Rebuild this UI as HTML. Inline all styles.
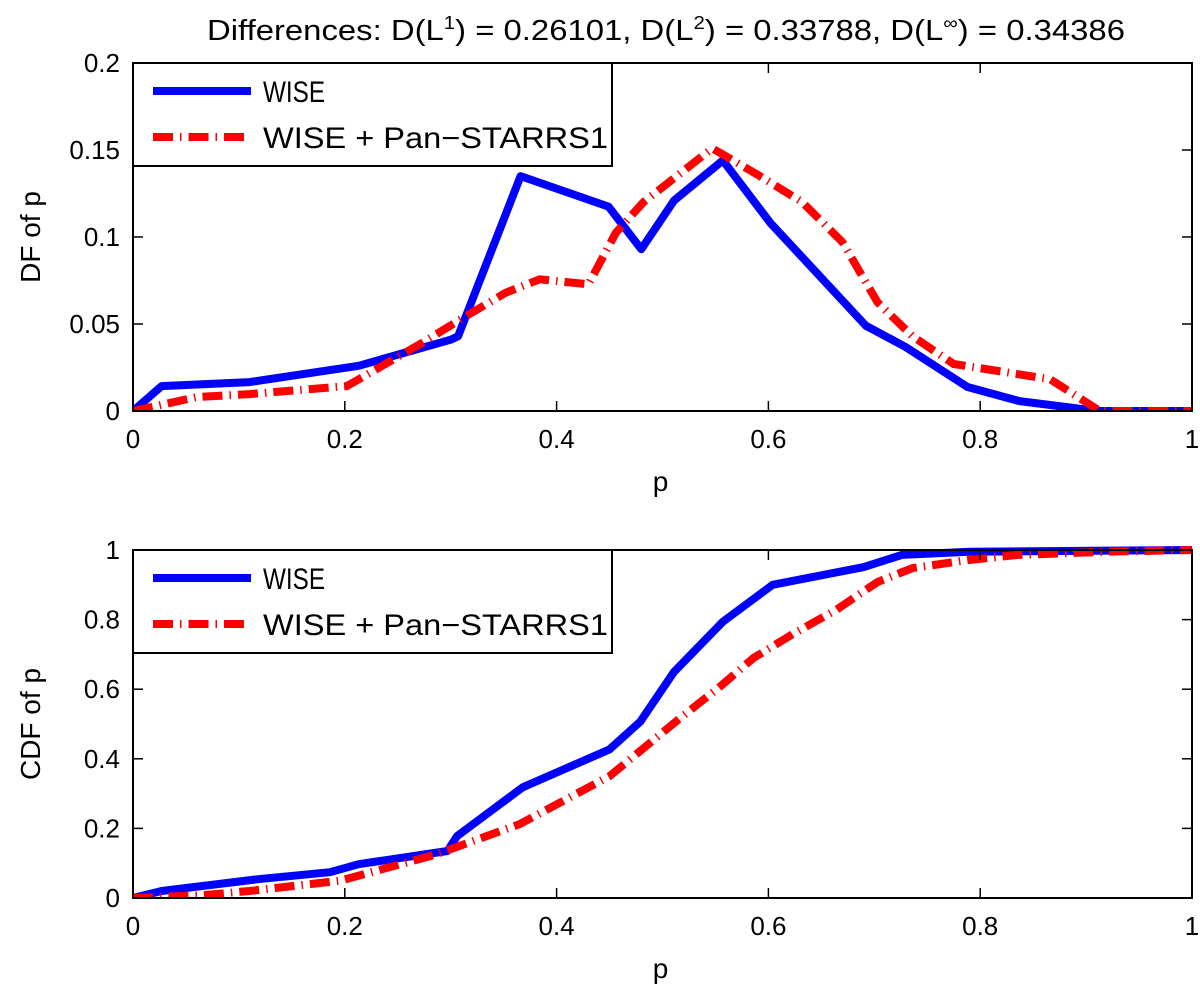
<!DOCTYPE html>
<html><head><meta charset="utf-8"><style>
body{margin:0;background:#fff}
svg text{font-family:"Liberation Sans",sans-serif;fill:#000}
</style></head><body>
<svg id="fig" width="1200" height="987" xmlns="http://www.w3.org/2000/svg">
<rect width="1200" height="987" fill="#fff"/>
<text x="207" y="40" font-size="29" textLength="918" lengthAdjust="spacingAndGlyphs">Differences: D(L<tspan font-size="18" dy="-11">1</tspan><tspan dy="11">) = 0.26101, D(L</tspan><tspan font-size="18" dy="-11">2</tspan><tspan dy="11">) = 0.33788, D(L</tspan><tspan font-size="18" dy="-11">∞</tspan><tspan dy="11">) = 0.34386</tspan></text>
<g id="top"></g>
<g id="bot"></g>
</svg>
<script>
const xTicks = [0, 0.2, 0.4, 0.6, 0.8, 1];
const dfTicks = [0, 0.05, 0.1, 0.15, 0.2];
const dfTickLabels = ["0", "0.05", "0.1", "0.15", "0.2"];
const cdfTicks = [0, 0.2, 0.4, 0.6, 0.8, 1];
const cdfTickLabels = ["0", "0.2", "0.4", "0.6", "0.8", "1"];
const xTickLabels = ["0", "0.2", "0.4", "0.6", "0.8", "1"];
const dfWiseP = [0, 0.027, 0.11, 0.213, 0.30, 0.307, 0.366, 0.449, 0.48, 0.511, 0.557, 0.602, 0.692, 0.729, 0.788, 0.837, 0.911, 1];
const dfWiseV = [0, 0.0143, 0.0166, 0.026, 0.041, 0.043, 0.135, 0.1175, 0.093, 0.121, 0.144, 0.108, 0.049, 0.037, 0.0138, 0.0057, 0, 0];
const dfPanP = [0, 0.06, 0.11, 0.202, 0.274, 0.313, 0.352, 0.384, 0.43, 0.456, 0.482, 0.547, 0.592, 0.632, 0.67, 0.703, 0.736, 0.775, 0.866, 0.913, 1];
const dfPanV = [0, 0.008, 0.0097, 0.0143, 0.0395, 0.054, 0.068, 0.0757, 0.0728, 0.1025, 0.12, 0.151, 0.135, 0.12, 0.097, 0.0625, 0.043, 0.027, 0.0183, 0, 0];
const cdfWiseP = [0, 0.027, 0.118, 0.186, 0.213, 0.297, 0.306, 0.368, 0.45, 0.479, 0.511, 0.557, 0.604, 0.69, 0.726, 0.79, 1];
const cdfWiseV = [0, 0.02, 0.054, 0.074, 0.097, 0.135, 0.178, 0.318, 0.427, 0.507, 0.65, 0.794, 0.9, 0.951, 0.986, 0.995, 1];
const cdfPanP = [0, 0.066, 0.11, 0.196, 0.287, 0.365, 0.45, 0.515, 0.553, 0.586, 0.625, 0.664, 0.703, 0.736, 0.788, 0.836, 0.92, 1];
const cdfPanV = [0, 0.008, 0.02, 0.05, 0.126, 0.212, 0.35, 0.513, 0.604, 0.69, 0.762, 0.828, 0.908, 0.948, 0.971, 0.986, 0.995, 1];

const NS = "http://www.w3.org/2000/svg";
function mk(parent, tag, attrs, text) {
  const e = document.createElementNS(NS, tag);
  for (const k in attrs) e.setAttribute(k, attrs[k]);
  if (text !== undefined) e.textContent = text;
  parent.appendChild(e);
  return e;
}
function panel(g, top, bottom, yMax, yTicks, yLabels, yTitle, wP, wV, pP, pV) {
  const L = 133, R = 1192;
  const xs = p => L + p * (R - L);
  const ys = v => bottom - v / yMax * (bottom - top);
  const clip = "c" + top;
  const defs = mk(g, "defs", {});
  const cp = mk(defs, "clipPath", {id: clip});
  mk(cp, "rect", {x: L, y: top - 6, width: R - L + 4, height: bottom - top + 6});
  const pts = (P, V) => P.map((p, i) => xs(p).toFixed(1) + "," + ys(V[i]).toFixed(1)).join(" ");
  const lw = mk(g, "polyline", {points: pts(wP, wV), fill: "none", stroke: "#0000ff", "stroke-width": 8, "stroke-linejoin": "round", "clip-path": "url(#" + clip + ")"});
  
  
  const lp = mk(g, "polyline", {points: pts(pP, pV), fill: "none", stroke: "#ff0000", "stroke-width": 8, "stroke-dasharray": "20 7 1.5 7", "clip-path": "url(#" + clip + ")"});
  
  
  const ax = mk(g, "rect", {x: L, y: top, width: R - L, height: bottom - top, fill: "none", stroke: "#000", "stroke-width": 2});
  
  
  xTicks.forEach((t, i) => {
    const x = xs(t);
    mk(g, "line", {x1: x, x2: x, y1: bottom, y2: bottom - 10, stroke: "#000", "stroke-width": 1.5});
    mk(g, "line", {x1: x, x2: x, y1: top, y2: top + 10, stroke: "#000", "stroke-width": 1.5});
    const tl = mk(g, "text", {x: x, y: bottom + 37, "font-size": 26, "text-anchor": "middle"}, xTickLabels[i]);
    
    
  });
  yTicks.forEach((t, i) => {
    const y = ys(t);
    mk(g, "line", {x1: L, x2: L + 10, y1: y, y2: y, stroke: "#000", "stroke-width": 1.5});
    mk(g, "line", {x1: R, x2: R - 10, y1: y, y2: y, stroke: "#000", "stroke-width": 1.5});
    const tl = mk(g, "text", {x: 120, y: y + 9, "font-size": 26, "text-anchor": "end"}, yLabels[i]);
    
    
  });
  const xt = mk(g, "text", {x: (L + R) / 2 - 2, y: bottom + 80, "font-size": 28, "text-anchor": "middle"}, "p");
  
  
  const cy = (top + bottom) / 2;
  const yt = mk(g, "text", {x: 40, y: cy, "font-size": 28, "text-anchor": "middle", transform: "rotate(-90 40 " + cy + ")"}, yTitle);
  
  
  const lg = mk(g, "g", {});
  
  
  mk(lg, "rect", {x: L, y: top, width: 479, height: 103, fill: "#fff", stroke: "#000", "stroke-width": 2});
  mk(lg, "line", {x1: 153, x2: 251, y1: top + 28, y2: top + 28, stroke: "#0000ff", "stroke-width": 8});
  const e1 = mk(lg, "text", {x: 263, y: top + 39, "font-size": 30, textLength: 62, lengthAdjust: "spacingAndGlyphs"}, "WISE");
  
  
  mk(lg, "line", {x1: 153, x2: 251, y1: top + 74, y2: top + 74, stroke: "#ff0000", "stroke-width": 8, "stroke-dasharray": "20 7 1.5 7"});
  const e2 = mk(lg, "text", {x: 263, y: top + 85, "font-size": 30, textLength: 345, lengthAdjust: "spacingAndGlyphs"}, "WISE + Pan\u2212STARRS1");
  
  
}
panel(document.getElementById("top"), 63, 411, 0.2, dfTicks, dfTickLabels, "DF of p", dfWiseP, dfWiseV, dfPanP, dfPanV);
panel(document.getElementById("bot"), 550, 898, 1, cdfTicks, cdfTickLabels, "CDF of p", cdfWiseP, cdfWiseV, cdfPanP, cdfPanV);
</script>
</body></html>
